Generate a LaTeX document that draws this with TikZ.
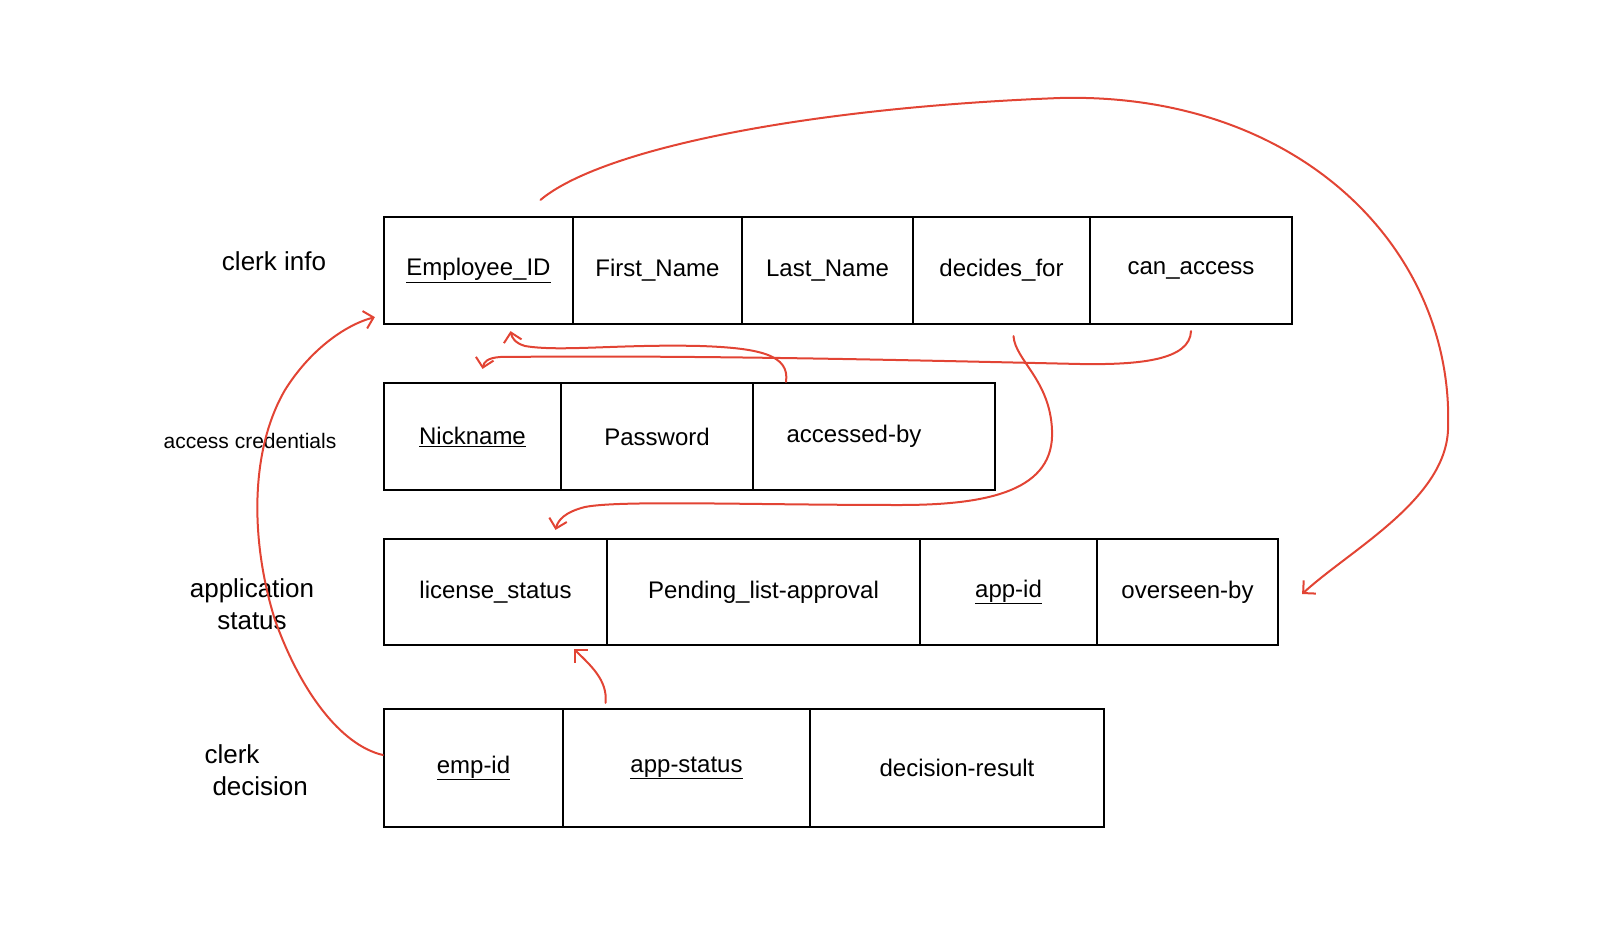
\documentclass[tikz,border=0pt]{standalone}
\usepackage{fontspec}
\setmainfont{Liberation Sans}
\usepackage{tikz}
\usetikzlibrary{arrows.meta, calc}
\definecolor{inkred}{RGB}{226,68,52}

\tikzset{
  attr/.style={draw, line width=2.2pt, minimum height=107pt, inner sep=0pt,
    font=\fontsize{24}{28}\selectfont},
  tname/.style={font=\fontsize{26}{32}\selectfont, align=center},
  link/.style={draw=inkred, line width=2pt, line cap=round,
    -{Straight Barb[length=9pt,width=18pt]}},
}

\begin{document}
\begin{tikzpicture}[x=1pt, y=-1pt]

  \useasboundingbox (0,0) rectangle (1600,942);

  % clerk info
  \node[tname] (t1) at (274,261) {clerk info};
  \node[attr, minimum width=189pt] (eid)    at (478.5,270.5) {\underline{Employee\_ID}};
  \node[attr, minimum width=169pt] (fname)  at (657.5,270.5) {First\_Name};
  \node[attr, minimum width=171pt] (lname)  at (827.5,270.5) {Last\_Name};
  \node[attr, minimum width=177pt] (decfor) at (1001.5,270.5) {decides\_for};
  \node[attr, minimum width=202pt] (canacc) at (1191,270.5) {can\_access};

  % access credentials
  \node[tname, font=\fontsize{21}{25}\selectfont] (t2) at (250,441) {access credentials};
  \node[attr, minimum width=177pt] (nick)  at (472.5,436.5) {\underline{Nickname}};
  \node[attr, minimum width=192pt] (pass)  at (657,436.5) {Password};
  \node[attr, minimum width=242pt] (accby) at (874,436.5) {accessed-by\kern40pt};

  % application status
  \node[tname] (t3) at (252,604) {application\\status};
  \node[attr, minimum width=223pt, minimum height=106pt] (lic)   at (495.5,592) {license\_status};
  \node[attr, minimum width=313pt, minimum height=106pt] (pend)  at (763.5,592) {Pending\_list-approval};
  \node[attr, minimum width=177pt, minimum height=106pt] (appid) at (1008.5,592) {\underline{app-id}};
  \node[attr, minimum width=181pt, minimum height=106pt] (over)  at (1187.5,592) {overseen-by};

  % clerk decision
  \node[tname, align=left, anchor=west] (t4) at (201,770) {clerk\\\hspace{8pt}decision};
  \node[attr, minimum width=179pt, minimum height=118pt] (empid)  at (473.5,768) {\underline{emp-id}};
  \node[attr, minimum width=247pt, minimum height=118pt] (appst)  at (686.5,768) {\underline{app-status}};
  \node[attr, minimum width=294pt, minimum height=118pt] (decres) at (957,768) {decision-result};

  % free ends of the arrows
  \coordinate (aS) at ([xshift=62pt,yshift=16pt]eid.north);
  \coordinate (aE) at ([xshift=23pt,yshift=-2pt]over.east);
  \coordinate (bS) at ([yshift=13pt]empid.west);
  \coordinate (bE) at ([xshift=-8pt,yshift=8pt]eid.south west);
  \coordinate (cS) at ([xshift=-88pt]accby.north);
  \coordinate (cE) at ([xshift=32pt,yshift=-6pt]eid.south);
  \coordinate (dS) at ([yshift=-6pt]canacc.south);
  \coordinate (dE) at ([xshift=10pt,yshift=13pt]nick.north);
  \coordinate (eS) at ([xshift=12pt,yshift=-11pt]decfor.south);
  \coordinate (eE) at ([xshift=60pt,yshift=8pt]lic.north);
  \coordinate (fS) at ([xshift=-81pt,yshift=5pt]appst.north);
  \coordinate (fE) at ([xshift=-34pt,yshift=-3pt]lic.south east);

  % arrows
  \draw[link] (aS) .. controls (600,150) and (800,108) .. (1060,98)
    .. controls (1300,92) and (1455,250) .. (1448,430)
    .. controls (1445,500) and (1350,550) .. (aE);
  \draw[link] (bS) .. controls (340,745) and (300,690) .. (275,620)
    .. controls (250,540) and (250,450) .. (285,390)
    .. controls (310,350) and (345,325) .. (bE);
  \draw[link] (cS) .. controls (790,355) and (760,348) .. (700,346)
    .. controls (620,344) and (560,352) .. (525,346)
    .. controls (515,343) and (512,338) .. (cE);
  \draw[link] (dS) .. controls (1190,360) and (1140,365) .. (1080,364)
    .. controls (900,360) and (700,355) .. (500,357)
    .. controls (487,358) and (484,362) .. (dE);
  \draw[link] (eS) .. controls (1015,360) and (1050,380) .. (1052,430)
    .. controls (1055,490) and (990,505) .. (900,505)
    .. controls (750,505) and (620,500) .. (585,507)
    .. controls (565,512) and (558,520) .. (eE);
  \draw[link] (fS) .. controls (608,680) and (590,665) .. (fE);

\end{tikzpicture}
\end{document}
